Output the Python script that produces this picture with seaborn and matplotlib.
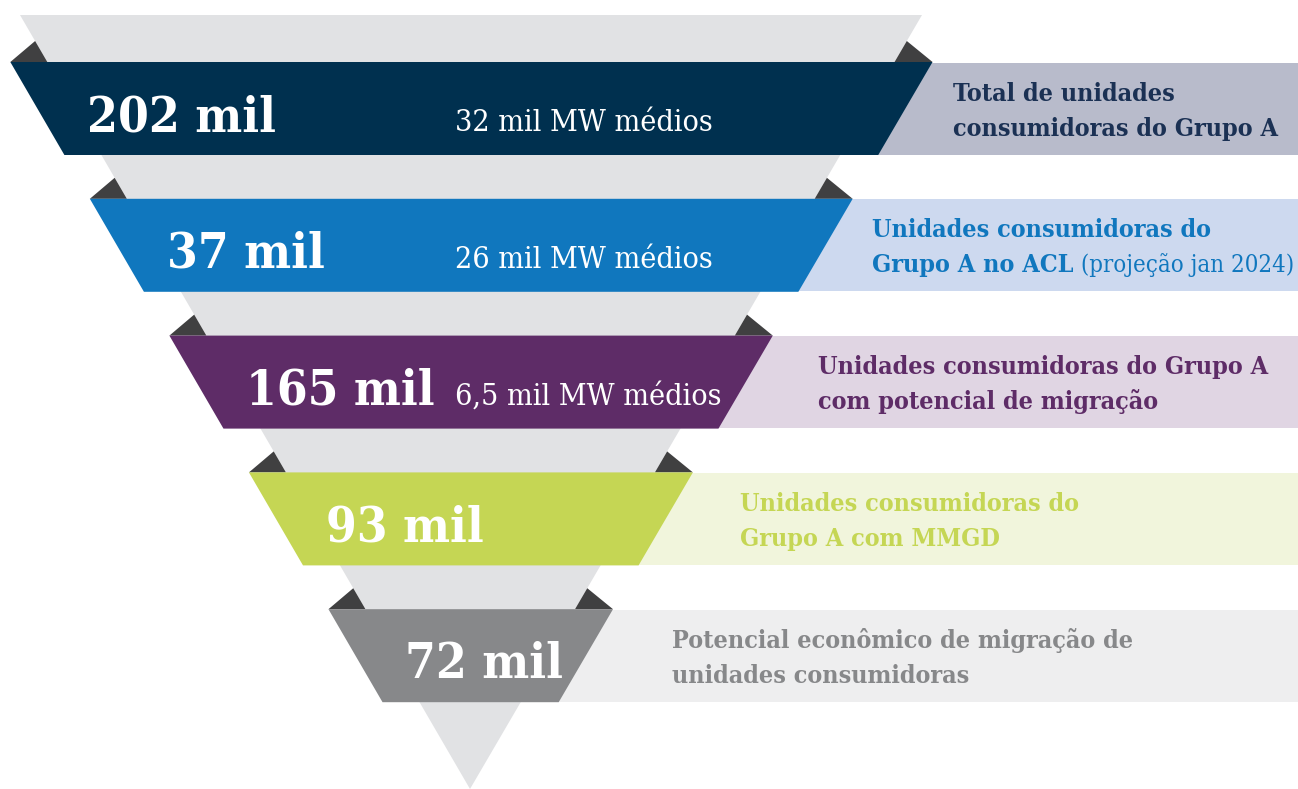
import matplotlib.pyplot as plt
import matplotlib.patches as mpatches
import seaborn as sns

# funnel levels, top to bottom
counts = ['202 mil', '37 mil', '165 mil', '93 mil', '72 mil']
mw_labels = ['32 mil MW médios', '26 mil MW médios', '6,5 mil MW médios', '', '']
desc_line1 = ['Total de unidades', 'Unidades consumidoras do',
              'Unidades consumidoras do Grupo A', 'Unidades consumidoras do',
              'Potencial econômico de migração de']
desc_line2 = ['consumidoras do Grupo A', 'Grupo A no ACL',
              'com potencial de migração', 'Grupo A com MMGD',
              'unidades consumidoras']
desc_note = ['', ' (projeção jan 2024)', '', '', '']

band_colors = ['#00304F', '#1077BE', '#5E2C67', '#C5D654', '#87888A']
box_colors = ['#B8BBCB', '#CDD9EF', '#E0D5E3', '#F1F5DC', '#EEEEEF']
text_colors = ['#1B3154', '#1077BE', '#5E2C67', '#C5D654', '#87888A']
desc_x = [953, 872, 818, 740, 672]

sns.set_theme(style='white')
plt.rcParams['font.family'] = ['DejaVu Serif', 'DejaVu Sans']

W, H = 1298, 789
fig = plt.figure(figsize=(W / 100, H / 100), dpi=100)
ax = fig.add_axes([0, 0, 1, 1])
ax.set_xlim(0, W)
ax.set_ylim(H, 0)
ax.axis('off')

# big grey funnel triangle
tri_top, tri_l, tri_r, apex_x, apex_y = 15, 20, 922, 470, 789


def left(y):
    return tri_l + (apex_x - tri_l) * (y - tri_top) / (apex_y - tri_top)


def right(y):
    return tri_r - (tri_r - apex_x) * (y - tri_top) / (apex_y - tri_top)


ax.add_patch(mpatches.Polygon([(tri_l, tri_top), (tri_r, tri_top), (apex_x, apex_y)],
                              closed=True, color='#E1E2E4', lw=0, zorder=1))

band_h = 93
pad_l, pad_r = 37, 38
fold_h = 21
fonts = dict(family=['DejaVu Serif', 'DejaVu Sans'], stretch='condensed')

fig.canvas.draw()
renderer = fig.canvas.get_renderer()

for i, cnt in enumerate(counts):
    top = 62 + i * 136.8
    bot = top + band_h
    mid = top + band_h / 2

    # label box behind the band
    ax.barh(mid, W - right(bot), left=right(bot), height=band_h - 1,
            color=box_colors[i], lw=0, zorder=2)

    # folded corners
    ax.add_patch(mpatches.Polygon([(left(top) - pad_l, top), (left(top), top),
                                   (left(top - fold_h), top - fold_h)],
                                  closed=True, color='#404041', lw=0, zorder=2))
    ax.add_patch(mpatches.Polygon([(right(top) + pad_r, top), (right(top), top),
                                   (right(top - fold_h), top - fold_h)],
                                  closed=True, color='#404041', lw=0, zorder=2))

    # band
    ax.add_patch(mpatches.Polygon([(left(top) - pad_l, top), (right(top) + pad_r, top),
                                   (right(bot) + pad_r, bot), (left(bot) - pad_l, bot)],
                                  closed=True, color=band_colors[i], lw=0, zorder=3))

    ax.text(left(top) - pad_l + 77, top + 69, cnt, color='white', fontsize=35.5,
            fontweight='bold', va='baseline', ha='left', zorder=4, **fonts)
    if mw_labels[i]:
        ax.text(455, top + 69, mw_labels[i], color='white', fontsize=21.8,
                va='baseline', ha='left', zorder=4, **fonts)

    ax.text(desc_x[i], mid - 8, desc_line1[i], color=text_colors[i], fontsize=18,
            fontweight='bold', va='baseline', ha='left', zorder=4, **fonts)
    t2 = ax.text(desc_x[i], mid + 27, desc_line2[i], color=text_colors[i], fontsize=18,
                 fontweight='bold', va='baseline', ha='left', zorder=4, **fonts)
    if desc_note[i]:
        bb = t2.get_window_extent(renderer=renderer)
        x_end = ax.transData.inverted().transform((bb.x1, bb.y0))[0]
        ax.text(x_end, mid + 27, desc_note[i], color=text_colors[i], fontsize=17.2,
                va='baseline', ha='left', zorder=4, **fonts)

fig.savefig('out.png', dpi=100, facecolor='white')
